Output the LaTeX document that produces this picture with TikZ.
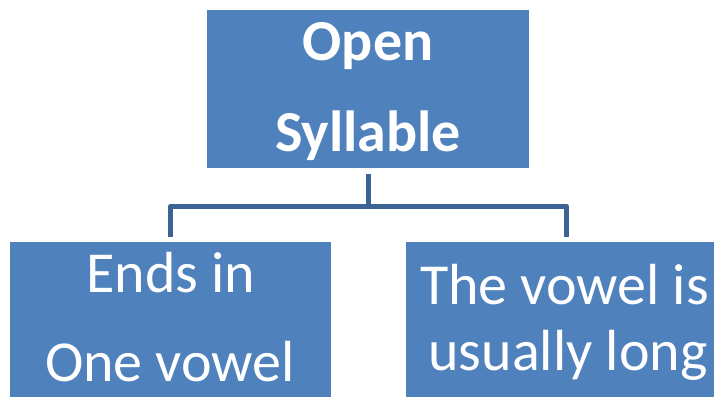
\documentclass[tikz,border=0pt]{standalone}
\usepackage{fontspec}
\setmainfont{Carlito}
\usetikzlibrary{calc}
\definecolor{boxblue}{HTML}{4F81BD}
\definecolor{connblue}{HTML}{3B6494}
\begin{document}
\begin{tikzpicture}[x=1pt,y=1pt,
  box/.style={rectangle, fill=boxblue, draw=none, inner sep=0pt},
  txt/.style={text=white, inner sep=0pt, anchor=base, font=\fontsize{58}{62}\selectfont},
  btxt/.style={txt, font=\fontsize{58}{62}\selectfont\bfseries},
  conn/.style={draw=connblue, line width=5pt, line join=round}]
\useasboundingbox (0,0) rectangle (714,396);
\begin{scope}
\clip (0,0) rectangle (714,396);
\node[box, minimum width=322pt, minimum height=158pt] (top) at (368,307) {};
\node[box, minimum width=321pt, minimum height=174pt] (left) at (170.5,67) {};
\node[box, minimum width=321pt, minimum height=174pt] (right) at (566.5,67) {};
\node[btxt] (t1) at (368,335) {Open};
\node[btxt] (t2) at (368,244) {Syllable};
\node[txt] (l1) at (171,103) {Ends in};
\node[txt] (l2) at (170,15) {One vowel};
\node[txt] (r1) at (564.5,91) {The vowel is};
\node[txt] (r2) at (568,26) {usually long};
\coordinate (j) at ($(top.south)+(0,-38)$);
\draw[conn] ($(top.south)+(0,-6)$) -- (j);
\draw[conn] ($(left.north)+(0,5)$) |- (j) -| ($(right.north)+(0,5)$);
\end{scope}
\end{tikzpicture}
\end{document}
